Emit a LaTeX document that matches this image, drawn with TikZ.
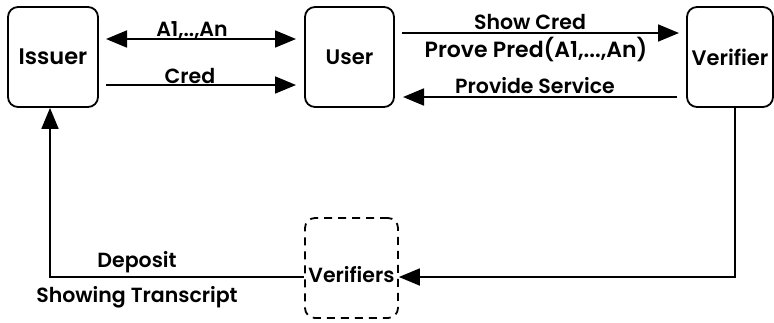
\documentclass[tikz,border=0pt]{standalone}
\usepackage{fontspec}
\setmainfont{Poppins}[BoldFont={* SemiBold}]
\usetikzlibrary{arrows.meta}
\begin{document}
\begin{tikzpicture}[x=1pt,y=-1pt,
  box/.style={draw,line width=1.8pt,rounded corners=10pt,minimum width=#1,minimum height=100pt,inner sep=0pt,font=\bfseries\fontsize{21}{24}\selectfont},
  lab/.style={inner sep=0pt,font=\bfseries\fontsize{20.5}{24}\selectfont},
  conn/.style={line width=1.8pt,-{Triangle[length=21pt,width=17pt]}},
  conn2/.style={line width=1.8pt,{Triangle[length=21pt,width=17pt]}-{Triangle[length=21pt,width=17pt]}}]
\useasboundingbox (0,0) rectangle (774,322);
\node[box=90pt,font=\bfseries\fontsize{22.5}{24}\selectfont] (issuer) at (53,57) {Issuer};
\node[box=89pt] (user) at (349.5,57) {User};
\node[box=86pt] (verifier) at (730,57) {Verifier};
\node[box=93pt,dashed,dash pattern=on 8pt off 6pt] (verifiers) at (351.5,268) {};
\node[lab,font=\bfseries\fontsize{20.5}{24}\selectfont] (vtxt) at (351.5,275) {Verifiers};
% top arrows
\coordinate (a1s) at (106,39);
\coordinate (a1e) at (296,39);
\draw[conn2] (a1s) -- (a1e);
\node[lab] (la1) at (192,30) {A1,..,An};
\coordinate (cs) at (106,85);
\coordinate (ce) at (296,85);
\draw[conn] (cs) -- (ce);
\node[lab] (lcred) at (190,76) {Cred};
\coordinate (ss) at (402,33);
\coordinate (se) at (679,33);
\draw[conn] (ss) -- (se);
\node[lab] (lshow) at (530,22) {Show Cred};
\node[lab,font=\bfseries\fontsize{22}{24}\selectfont] (lprove) at (536,49) {Prove Pred(A1,...,An)};
\coordinate (ps) at (677,97);
\coordinate (pe) at (403,97);
\draw[conn] (ps) -- (pe);
\node[lab] (lprov) at (535,86) {Provide Service};
% bottom
\coordinate (vd) at (735,107);
\draw[conn] (vd) |- (verifiers.east |- 0,277);
\draw[conn] (verifiers.west |- 0,277) -| (issuer.south -| 50,0);
\node[lab] (ldep) at (137,262) {Deposit};
\node[lab] (lshowt) at (137,297) {Showing Transcript};
\end{tikzpicture}
\end{document}
